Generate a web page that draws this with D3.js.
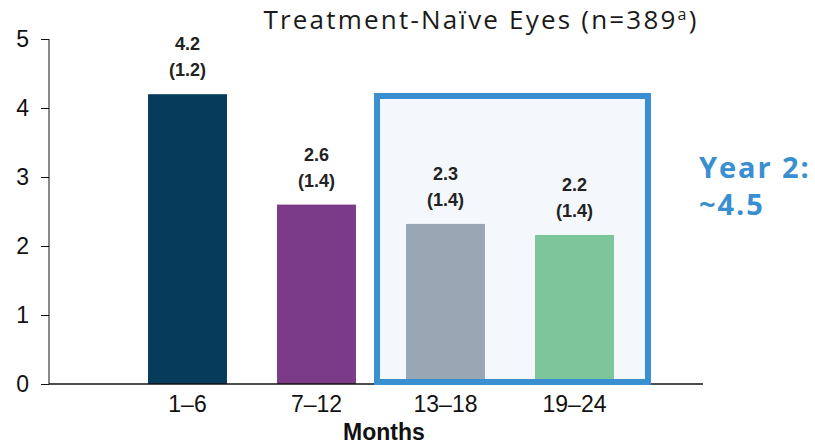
<!DOCTYPE html>
<html>
<head>
<meta charset="utf-8">
<script src="https://cdn.jsdelivr.net/npm/d3@7"></script>
<style>
  body { margin: 0; background: #fff; }
  #chart { width: 815px; height: 445px; }
</style>
</head>
<body>
<div id="chart"></div>
<script>
var width = 815, height = 445;

// data
var months = ["1–6", "7–12", "13–18", "19–24"];
var values = [4.2, 2.6, 2.32, 2.16];
var meanLabels = ["4.2", "2.6", "2.3", "2.2"];
var sdLabels = ["(1.2)", "(1.4)", "(1.4)", "(1.4)"];
var barColors = ["#063b5c", "#7b3b89", "#98a7b3", "#7dc59a"];
var yTicks = [0, 1, 2, 3, 4, 5];

var svg = d3.select("#chart")
  .append("svg")
  .attr("width", width)
  .attr("height", height);

var y = d3.scaleLinear()
  .domain([0, 5])
  .range([384, 39]);

var x = d3.scaleBand()
  .domain(months)
  .range([58.5, 703.5])
  .paddingInner(0.388)
  .paddingOuter(0.694);

// highlight box behind year 2 bars
var boxL = x("13–18") - 29, boxR = x("19–24") + x.bandwidth() + 34;
svg.append("rect")
  .attr("x", boxL)
  .attr("y", 96)
  .attr("width", boxR - boxL)
  .attr("height", y(0) - 96 - 2)
  .attr("fill", "#f4f8fc");

// bars
svg.selectAll("rect.bar")
  .data(values)
  .enter()
  .append("rect")
  .attr("class", "bar")
  .attr("x", (d, i) => x(months[i]))
  .attr("y", d => y(d))
  .attr("width", x.bandwidth())
  .attr("height", d => y(0) - y(d))
  .attr("fill", (d, i) => barColors[i]);

// y axis
var yAxis = d3.axisLeft(y).tickValues(yTicks).tickFormat(d3.format("d")).tickSize(8).tickPadding(12);
var gy = svg.append("g")
  .attr("transform", "translate(49,0)")
  .call(yAxis);
gy.select(".domain").attr("d", "M0," + y(5) + "V" + y(0)).attr("stroke", "#111");
gy.selectAll(".tick line").attr("stroke", "#111");
gy.selectAll("text")
  .attr("font-family", "Liberation Sans, Arial, sans-serif")
  .attr("font-size", 23)
  .attr("fill", "#111");

// x axis
var xAxis = d3.axisBottom(x).tickSize(0).tickPadding(12);
var gx = svg.append("g")
  .attr("transform", "translate(0," + y(0) + ")")
  .call(xAxis);
gx.select(".domain").attr("d", "M49,0H703").attr("stroke", "#111").attr("stroke-width", 1.5);
gx.selectAll("text")
  .attr("font-family", "Liberation Sans, Arial, sans-serif")
  .attr("font-size", 23)
  .attr("fill", "#111");

svg.append("text")
  .attr("x", 384)
  .attr("y", 440)
  .attr("text-anchor", "middle")
  .attr("font-family", "Liberation Sans, Arial, sans-serif")
  .attr("font-weight", "bold")
  .attr("font-size", 23)
  .attr("fill", "#111")
  .text("Months");

// value labels
var lab = svg.selectAll("g.lab")
  .data(values)
  .enter()
  .append("g")
  .attr("class", "lab")
  .attr("font-family", "Liberation Sans, Arial, sans-serif")
  .attr("font-weight", "bold")
  .attr("font-size", 18)
  .attr("fill", "#222")
  .attr("text-anchor", "middle");
lab.append("text")
  .attr("x", (d, i) => x(months[i]) + x.bandwidth() / 2)
  .attr("y", d => y(d) - 44)
  .text((d, i) => meanLabels[i]);
lab.append("text")
  .attr("x", (d, i) => x(months[i]) + x.bandwidth() / 2)
  .attr("y", d => y(d) - 18)
  .text((d, i) => sdLabels[i]);

// box outline
svg.append("rect")
  .attr("x", boxL)
  .attr("y", 96)
  .attr("width", boxR - boxL)
  .attr("height", y(0) - 96 - 2)
  .attr("fill", "none")
  .attr("stroke", "#3a8fd0")
  .attr("stroke-width", 6);

// title
var title = svg.append("text")
  .attr("x", 481)
  .attr("y", 29)
  .attr("text-anchor", "middle")
  .attr("font-family", "Open Sans, Noto Sans, sans-serif")
  .attr("font-size", 26)
  .attr("letter-spacing", 2.2)
  .attr("fill", "#1a1a1a");
title.append("tspan").text("Treatment-Naïve Eyes (n=389");
title.append("tspan").attr("font-size", 16).attr("dy", -9).text("a");
title.append("tspan").attr("dy", 9).text(")");

// year 2 annotation
var ann = svg.append("text")
  .attr("font-family", "Open Sans, Noto Sans, sans-serif")
  .attr("font-weight", "bold")
  .attr("font-size", 29)
  .attr("letter-spacing", 1.9)
  .attr("fill", "#3a8fd0");
ann.append("tspan").attr("x", 699).attr("y", 178).text("Year 2:");
ann.append("tspan").attr("x", 699).attr("y", 215).text("~4.5");
</script>
</body>
</html>
